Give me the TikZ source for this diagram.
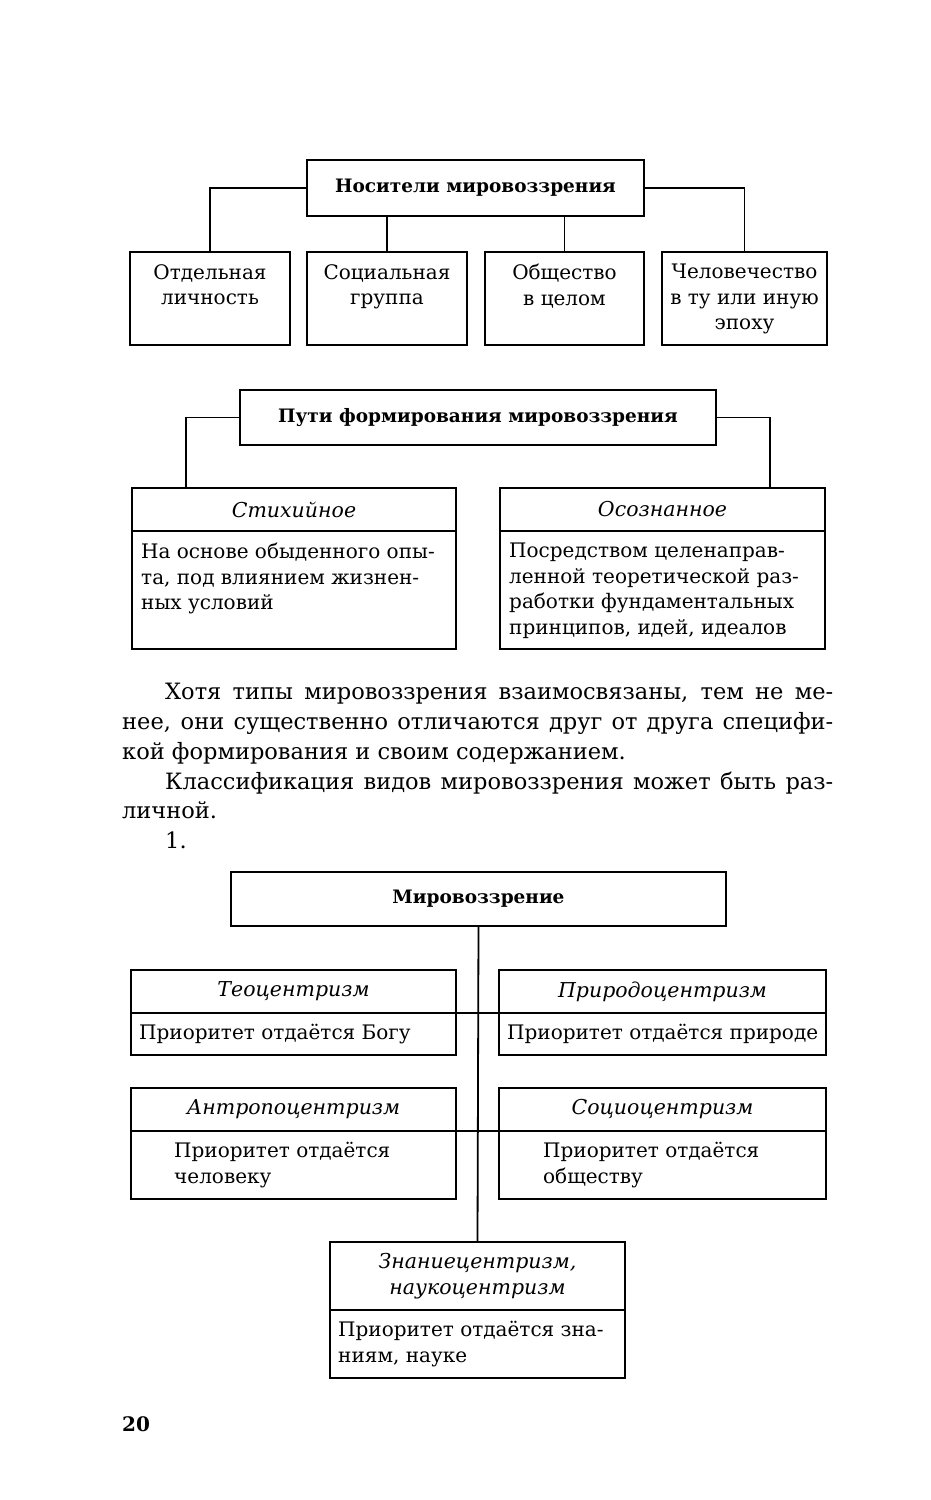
\documentclass[tikz,border=0pt]{standalone}
\usepackage{fontspec}
\setmainfont{DejaVu Serif}
\usetikzlibrary{positioning}

\tikzset{
  box/.style={draw, line width=1.8pt, inner sep=0pt, outer sep=0pt, anchor=north west},
  txt/.style={inner sep=0pt},
  head/.style={font=\fontsize{18.5}{25.5}\selectfont\bfseries},
  kind/.style={font=\fontsize{20.5}{25.5}\selectfont\itshape},
  link/.style={line width=1.8pt},
  para/.style={inner sep=0pt, anchor=base west, font=\fontsize{22.5}{30}\selectfont},
}

\begin{document}
\begin{tikzpicture}[x=1pt, y=-1pt, font=\fontsize{20}{25.5}\selectfont]
\useasboundingbox (0,0) rectangle (930,1500);

% носители
\node[box, head, minimum width=337pt, minimum height=56pt] (carriers) at (307,160) {Носители мировоззрения};
\node[box, minimum width=160pt, minimum height=93pt] (person) at (130,252) {};
\node[box, minimum width=160pt, minimum height=93pt] (group) at (307,252) {};
\node[box, minimum width=159pt, minimum height=93pt] (society) at (485,252) {};
\node[box, minimum width=165pt, minimum height=93pt] (mankind) at (662,252) {};
\node[txt, align=center, anchor=north] (personT) at ([yshift=-12pt]person.north) {Отдельная\\личность};
\node[txt, align=center, anchor=north] (groupT) at ([yshift=-12pt]group.north) {Социальная\\группа};
\node[txt, align=center, anchor=north] (societyT) at ([yshift=-12pt]society.north) {Общество\\в целом};
\node[txt, align=center, anchor=north] (mankindT) at ([yshift=-12pt]mankind.north) {Человечество\\в ту или иную\\эпоху};
\draw[link] (carriers.west) -| (person.north);
\draw[link] (carriers.east) -| (mankind.north);
\draw[link] (carriers.south -| group.north) -- (group.north);
\draw[link] (carriers.south -| society.north) -- (society.north);

% пути
\node[box, head, minimum width=476pt, minimum height=55pt] (ways) at (240,390) {Пути формирования мировоззрения};
\node[box, kind, minimum width=324pt, minimum height=43pt] (spont) at (132,488) {Стихийное};
\node[box, minimum width=324pt, minimum height=118pt] (spontB) at (spont.south west) {};
\node[box, kind, minimum width=325pt, minimum height=43pt] (aware) at (500,488) {Осознанное};
\node[box, minimum width=325pt, minimum height=118pt] (awareB) at (aware.south west) {};
\node[txt, align=left, anchor=north west] (spontT) at ([xshift=9pt, yshift=-12pt]spontB.north west) {На основе обыденного опы-\\та, под влиянием жизнен-\\ных условий};
\node[txt, align=left, anchor=north west] (awareT) at ([xshift=9pt, yshift=-12pt]awareB.north west) {Посредством целенаправ-\\ленной теоретической раз-\\работки фундаментальных\\принципов, идей, идеалов};
\draw[link] (ways.west) -| ([xshift=54pt]spont.north west);
\draw[link] (ways.east) -| ([xshift=-55pt]aware.north east);

% текст
\node[para] (p1) at (165,699) {\makebox[668pt][s]{Хотя типы мировоззрения взаимосвязаны, тем не ме-}};
\node[para] (p2) at (122,729) {\makebox[711pt][s]{нее, они существенно отличаются друг от друга специфи-}};
\node[para] (p3) at (122,759) {кой формирования и своим содержанием.};
\node[para] (p4) at (165,789) {\makebox[668pt][s]{Классификация видов мировоззрения может быть раз-}};
\node[para] (p5) at (122,818) {личной.};
\node[para] (p6) at (165,848) {1.};

% виды
\node[box, head, minimum width=495pt, minimum height=54pt] (world) at (231,872) {Мировоззрение};
\node[box, kind, minimum width=325pt, minimum height=43pt] (theo) at (131,970) {Теоцентризм};
\node[box, minimum width=325pt, minimum height=42pt] (theoB) at (theo.south west) {};
\node[box, kind, minimum width=327pt, minimum height=43pt] (nature) at (499,970) {Природоцентризм};
\node[box, minimum width=327pt, minimum height=42pt] (natureB) at (nature.south west) {};
\node[box, kind, minimum width=325pt, minimum height=43pt] (anthro) at (131,1088) {Антропоцентризм};
\node[box, minimum width=325pt, minimum height=68pt] (anthroB) at (anthro.south west) {};
\node[box, kind, minimum width=327pt, minimum height=43pt] (socio) at (499,1088) {Социоцентризм};
\node[box, minimum width=327pt, minimum height=68pt] (socioB) at (socio.south west) {};
\node[box, kind, align=center, minimum width=295pt, minimum height=68pt] (know) at (330,1242) {Знаниецентризм,\\наукоцентризм};
\node[box, minimum width=295pt, minimum height=68pt] (knowB) at (know.south west) {};
\node[txt, anchor=west] (theoT) at ([xshift=8pt]theoB.west) {Приоритет отдаётся Богу};
\node[txt, anchor=west] (natureT) at ([xshift=8pt]natureB.west) {Приоритет отдаётся природе};
\node[txt, align=left, anchor=west] (anthroT) at ([xshift=43pt]anthroB.west) {Приоритет отдаётся\\человеку};
\node[txt, align=left, anchor=west] (socioT) at ([xshift=44pt]socioB.west) {Приоритет отдаётся\\обществу};
\node[txt, align=left, anchor=west] (knowT) at ([xshift=8pt]knowB.west) {Приоритет отдаётся зна-\\ниям, науке};
\draw[link] (world.south) -- (know.north);
\draw[link] (theo.south east) -- (nature.south west);
\draw[link] (anthro.south east) -- (socio.south west);

\node[txt, anchor=base west, font=\fontsize{20}{24}\selectfont\bfseries] (page) at (122,1431) {20};
\end{tikzpicture}
\end{document}
